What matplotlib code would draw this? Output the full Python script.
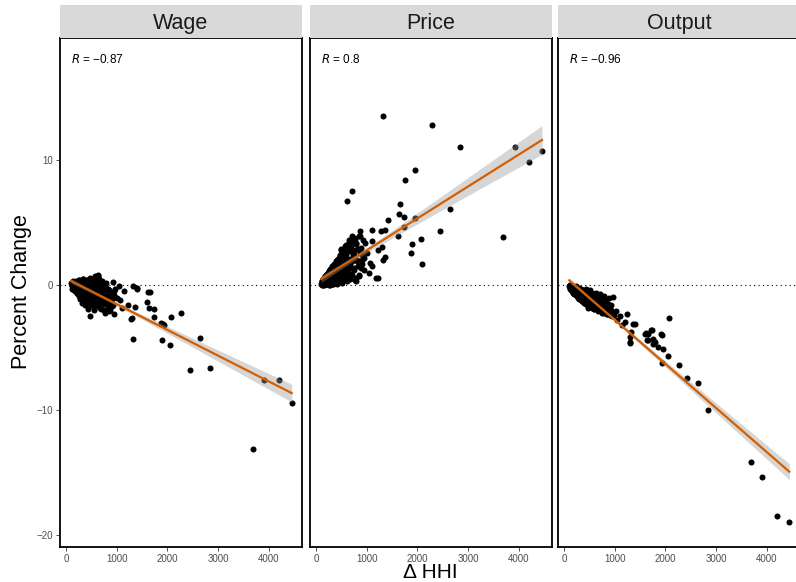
import numpy as np
import matplotlib
matplotlib.use("Agg")
import matplotlib.pyplot as plt

plt.rcParams['font.family'] = ['Liberation Sans', 'DejaVu Sans']

panels = ['Wage', 'Price', 'Output']
r_labels = ['\u22120.87', '0.8', '\u22120.96']

# Wage: outliers + sparse part of the blob
wage_x = [4452, 4207, 3912, 3688, 2834, 2440, 2643, 2274, 2077, 2051, 1887, 1939, 1867, 1910,
          1315, 1282, 1300, 1729, 1742, 1650, 1598, 1637, 1407, 1315, 1361, 1223, 1150, 1052,
          1623, 1394, 1100, 1060, 1000, 960, 933, 625, 637,
          110, 130, 150, 160, 175, 190, 200, 210, 225, 240, 250, 260, 270, 285, 300, 310, 320,
          330, 340, 350, 360, 370, 380, 390, 400, 410, 420, 430, 440, 450, 460, 470, 480, 490,
          500, 510, 520, 530, 540, 550, 560, 570, 580, 590, 600, 610, 620, 630, 640, 650, 660,
          670, 680, 690, 700, 710, 720, 740, 750, 760, 780, 790, 800, 820, 830, 850, 860, 880,
          900, 920, 940, 950]
wage_y = [-9.42, -7.57, -7.63, -13.15, -6.64, -6.80, -4.27, -2.27, -2.59, -4.77, -4.40, -3.23, -3.01, -3.10,
          -4.29, -2.72, -2.60, -2.59, -1.95, -0.59, -1.39, -1.81, -0.35, -0.08, -1.79, -1.57, -0.45, -0.10,
          -0.59, -0.27, -1.85, -1.20, -1.00, -0.30, 0.27, 0.72, 0.80,
          0.1, -0.1, 0.2, -0.3, 0.0, -0.5, 0.3, -0.2, -0.6, 0.1, -0.9, 0.4, -0.3, -1.1, 0.2, -0.7, -1.4,
          0.5, -0.2, -1.0, 0.3, -0.5, -1.6, 0.1, -0.8, -1.3, 0.4, -0.4, -1.9, 0.2, -1.1, -0.6, -2.5, 0.0,
          -1.5, 0.5, -0.9, -0.3, -1.2, 0.3, -2.0, -0.7, 0.6, -1.4, -0.2, -1.0, 0.4, -1.7, -0.5, 0.1, -1.3,
          -0.8, 0.2, -1.9, -0.4, -1.1, 0.0, -1.5, -0.7, -2.2, -0.2, -1.2, -0.9, -1.8, -0.3, -1.4, -2.0, -0.6,
          -1.1, -1.6, -0.8, -2.3]

# Price: outliers + sparse part of the blob
price_x = [4458, 4207, 3918, 3688, 2840, 2280, 2643, 2446, 1314, 1945, 1761, 716, 611, 1649,
           1637, 1742, 1945, 1412, 1728, 1609, 2063, 1893, 1866, 2091, 1361, 1274, 1104, 873,
           1110, 1302, 1367, 1321, 1222, 1189, 795, 1071, 1110, 1222, 1000, 960, 900, 1050, 950,
           761, 499, 584, 696,
           110, 120, 135, 150, 160, 175, 190, 200, 210, 225, 240, 250, 260, 270, 285, 300, 310,
           320, 330, 340, 350, 360, 370, 380, 390, 400, 410, 420, 430, 440, 450, 460, 470, 480,
           490, 500, 510, 520, 530, 540, 550, 560, 570, 580, 590, 600, 610, 620, 630, 640, 650,
           660, 670, 680, 690, 700, 710, 720, 740, 750, 760, 780, 800, 820, 840, 860, 880, 900]
price_y = [10.72, 9.87, 11.04, 3.82, 11.04, 12.77, 6.05, 4.32, 13.49, 9.20, 8.43, 7.52, 6.72, 6.48,
           5.68, 5.41, 5.38, 5.20, 4.61, 3.92, 3.65, 3.25, 2.56, 1.68, 4.40, 4.32, 4.37, 4.29,
           3.55, 3.01, 2.27, 2.03, 0.58, 0.58, 0.32, 1.74, 1.55, 2.80, 2.60, 3.40, 2.00, 1.00, 1.20,
           3.65, 2.86, 3.20, 3.50,
           0.1, 0.3, 0.0, 0.5, 0.2, 0.7, 0.1, 0.4, 0.9, 0.2, 0.6, 1.1, 0.0, 0.8, 1.3, 0.3, 0.6,
           1.5, 0.1, 1.0, 1.7, 0.4, 1.2, 0.2, 1.9, 0.7, 1.4, 0.1, 2.1, 0.9, 1.6, 0.3, 2.3, 1.1,
           0.5, 2.8, 1.8, 0.2, 1.3, 2.5, 0.6, 1.9, 3.1, 0.8, 2.2, 1.5, 0.3, 2.7, 3.3, 1.0, 2.0,
           3.6, 0.5, 1.7, 2.9, 3.1, 0.8, 3.9, 1.4, 2.4, 0.4, 3.4, 1.9, 2.9, 0.7, 3.9, 1.4, 2.4]

# Output: outliers + sparse part of the blob
output_x = [4444, 4201, 3912, 3682, 2834, 2637, 2432, 2275, 2077, 2051, 1933, 1933, 1953, 1860,
            1729, 1749, 1755, 1630, 1598, 1663, 1400, 1308, 1308, 1249, 966, 1197, 1361, 1328,
            1296, 1624, 1722, 1657, 1788, 1919, 1150, 1100, 1050, 1020, 980,
            110, 125, 140, 155, 170, 185, 200, 215, 230, 245, 260, 275, 290, 305, 320, 335, 350,
            365, 380, 395, 410, 425, 440, 455, 470, 485, 500, 515, 530, 545, 560, 575, 590, 605,
            620, 635, 650, 665, 680, 695, 710, 725, 740, 755, 770, 785, 800, 820, 840, 860, 880,
            900, 920, 940]
output_y = [-18.99, -18.50, -15.36, -14.19, -9.97, -7.81, -7.44, -6.40, -2.61, -5.65, -6.24, -4.03, -5.12, -4.93,
            -3.57, -4.32, -4.75, -4.43, -3.95, -3.95, -3.15, -4.67, -4.19, -2.35, -0.93, -2.93, -3.12, -3.73,
            -4.53, -3.87, -3.60, -4.40, -4.53, -3.95, -3.20, -2.50, -2.80, -2.10, -2.40,
            -0.1, 0.0, -0.3, -0.1, -0.4, -0.2, -0.6, -0.3, -0.8, -0.1, -0.5, -0.9, -0.2, -0.7, -1.1, -0.3, -0.8,
            -1.3, -0.4, -1.0, -0.6, -1.5, -0.3, -1.1, -1.8, -0.7, -1.3, -0.4, -1.0, -1.6, -0.6, -1.2, -1.9, -0.8,
            -1.4, -0.6, -1.7, -1.0, -2.1, -1.3, -0.7, -1.6, -1.1, -2.2, -1.4, -0.9, -1.8, -1.2, -2.3, -1.5, -1.0,
            -2.0, -1.6, -2.5]

# dense core of the blob (same HHI values in every panel)
blob_x = [105, 112, 118, 124, 131, 137, 143, 150, 156, 163, 169, 176, 182, 189, 195, 202, 208,
          215, 222, 228, 235, 242, 249, 256, 263, 270, 277, 284, 291, 298,
          306, 313, 320, 328, 335, 343, 351, 358, 366, 374, 382, 390, 398,
          406, 414, 423, 431, 440, 448, 457, 466, 475, 484, 493, 502,
          512, 521, 531, 540, 550, 560, 570, 580, 591, 601, 612, 623,
          634, 645, 656, 668, 680, 692, 704, 716, 729, 742,
          755, 768, 782, 796, 810, 825, 840, 855, 871, 887, 903, 920, 938]
blob_wage = [0.2, -0.1, 0.0, -0.3, 0.1, -0.2, 0.3, -0.4, 0.0, -0.1, 0.2, -0.5, -0.2, 0.1, -0.3, 0.0, -0.6,
             0.2, -0.4, -0.1, 0.3, -0.7, 0.0, -0.3, 0.4, -0.5, -0.9, 0.1, -0.2, -0.6,
             0.3, -1.0, -0.4, 0.0, -0.7, 0.5, -0.2, -1.2, -0.5, 0.2, -0.8, -0.1, -1.1,
             0.4, -0.6, -0.3, -1.3, 0.1, -0.9, -0.2, 0.6, -1.5, -0.5, 0.0, -1.0,
             -0.4, 0.3, -1.7, -0.8, 0.1, -1.2, -0.3, 0.7, -0.9, -1.6, 0.2, -0.6,
             -1.1, 0.5, -0.4, -1.8, 0.0, -0.9, -1.4, 0.3, -0.7, -2.0,
             -0.2, -1.2, -0.6, 0.2, -1.5, -0.9, -2.1, -0.4, -1.3, -0.8, -1.7, -1.0, -0.5]
blob_price = [0.1, 0.3, 0.0, 0.2, 0.5, 0.1, 0.4, 0.2, 0.6, 0.0, 0.3, 0.7, 0.1, 0.5, 0.2, 0.8, 0.4,
              0.1, 0.9, 0.5, 0.2, 1.0, 0.6, 0.3, 1.1, 0.0, 0.7, 1.2, 0.4, 0.9,
              0.2, 1.3, 0.6, 1.0, 0.1, 1.5, 0.8, 0.3, 1.6, 1.1, 0.5, 1.8, 0.9,
              0.2, 1.4, 2.0, 0.7, 1.1, 2.2, 0.4, 1.6, 2.4, 0.9, 1.3, 2.0,
              0.3, 2.6, 1.5, 0.8, 2.3, 1.1, 2.9, 0.5, 1.8, 2.5, 1.2, 3.0,
              0.6, 2.1, 3.2, 1.4, 2.7, 0.9, 3.5, 1.9, 2.4, 3.8,
              1.2, 2.8, 0.6, 3.3, 2.0, 1.5, 3.9, 0.8, 2.6, 3.0, 1.7, 3.6, 2.2]
blob_output = [-0.1, 0.0, -0.2, -0.3, -0.1, -0.4, -0.2, -0.5, -0.1, -0.3, -0.6, -0.2, -0.4, -0.7, -0.3, -0.5, -0.2,
               -0.6, -0.3, -0.8, -0.5, -0.2, -0.9, -0.6, -0.4, -1.0, -0.5, -0.7, -0.3, -1.1,
               -0.6, -0.9, -0.4, -1.2, -0.7, -1.0, -0.5, -1.3, -0.8, -0.6, -1.1, -1.4, -0.7,
               -0.9, -1.3, -0.6, -1.1, -1.5, -0.8, -1.2, -1.6, -0.7, -1.0, -1.4, -1.7,
               -1.1, -0.8, -1.5, -1.3, -1.8, -0.9, -1.4, -1.6, -1.0, -1.9, -1.2, -1.5,
               -1.3, -1.8, -1.1, -1.6, -2.0, -1.4, -1.7, -1.2, -2.1, -1.6,
               -1.5, -2.0, -1.7, -2.2, -1.4, -1.9, -2.3, -1.6, -2.1, -1.8, -2.4, -2.0, -2.2]

xs = [wage_x + blob_x, price_x + blob_x, output_x + blob_x]
ys = [wage_y + blob_wage, price_y + blob_price, output_y + blob_output]

W, H = 796, 582
fig = plt.figure(figsize=(W / 100, H / 100), dpi=100)

lefts = [60, 310, 558]
pw = 242
top, bottom = 38, 547

for i in range(3):
    ax = fig.add_axes([lefts[i] / W, (H - bottom) / H, pw / W, (bottom - top) / H])
    x = np.array(xs[i], dtype=float)
    y = np.array(ys[i], dtype=float)

    # lm fit with 95% confidence band
    n = len(x)
    b, a = np.polyfit(x, y, 1)
    xx = np.linspace(x.min(), x.max(), 100)
    resid = y - (a + b * x)
    s = np.sqrt(np.sum(resid ** 2) / (n - 2))
    sxx = np.sum((x - x.mean()) ** 2)
    se = s * np.sqrt(1 / n + (xx - x.mean()) ** 2 / sxx)
    yy = a + b * xx

    ax.axhline(0, color='black', lw=0.8, ls=(0, (1, 3)), zorder=1)
    ax.scatter(x, y, s=19, color='black', linewidths=0, zorder=2)
    ax.fill_between(xx, yy - 1.97 * se, yy + 1.97 * se, color='#999999', alpha=0.4, lw=0, zorder=3)
    ax.plot(xx, yy, color='#D55E00', lw=1.6, zorder=4)

    ax.set_xlim(-118, 4655)
    ax.set_ylim(-20.96, 19.76)
    ax.set_xticks([0, 1000, 2000, 3000, 4000])
    ax.set_yticks([-20, -10, 0, 10])
    ax.tick_params(direction='out', length=3, width=0.6, color='#333333',
                   labelsize=7, labelcolor='#4D4D4D', pad=2)
    if i > 0:
        ax.tick_params(axis='y', left=False, labelleft=False)
    for sp in ax.spines.values():
        sp.set_linewidth(1.3)
        sp.set_color('black')

    ax.text(0.045, 0.957, r'$\it{R}$' + ' = ' + r_labels[i], transform=ax.transAxes,
            fontsize=8.5, ha='left', va='center')

    # facet strip
    sax = fig.add_axes([lefts[i] / W, (H - top) / H, pw / W, (top - 5) / H])
    sax.set_facecolor('#D9D9D9')
    sax.set_xticks([])
    sax.set_yticks([])
    for sp in sax.spines.values():
        sp.set_visible(False)
    sax.text(0.5, 0.45, panels[i], transform=sax.transAxes, ha='center', va='center',
             fontsize=15.5, color='#1A1A1A')

fig.text(22 / W, 1 - 292 / H, 'Percent Change', rotation=90, ha='center', va='center', fontsize=15.5)
fig.text(430 / W, 1 - 573 / H, '\u0394 HHI', ha='center', va='center', fontsize=15)

fig.savefig('out.png', dpi=100)
